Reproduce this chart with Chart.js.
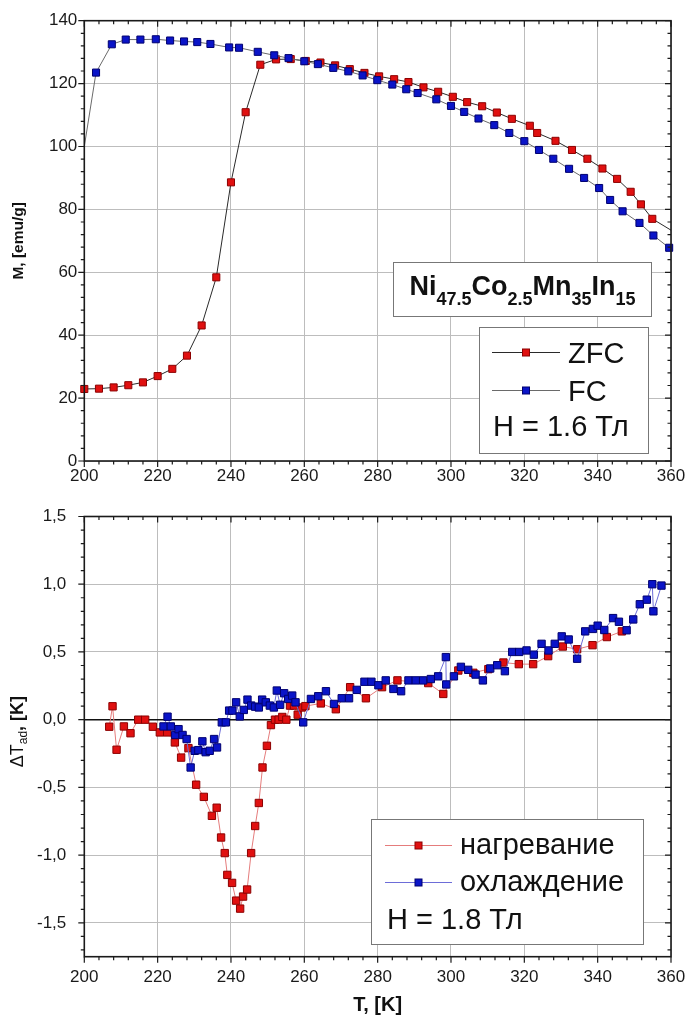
<!DOCTYPE html>
<html>
<head>
<meta charset="utf-8">
<title>Ni47.5Co2.5Mn35In15: M(T), ΔTad(T)</title>
<script src="https://cdn.jsdelivr.net/npm/chart.js@4.4.1/dist/chart.umd.min.js"></script>
<style>
  html, body { margin: 0; padding: 0; background: #fff; }
  canvas { position: absolute; left: 0; }
  #top { top: 0; }
  #bottom { top: 495px; }
</style>
</head>
<body>
<canvas id="top" width="688" height="495"></canvas>
<canvas id="bottom" width="688" height="526"></canvas>
<script>
// ---- top panel: magnetisation, H = 1.6 T ----
const zfcT = [200, 204, 208, 212, 216, 220, 224, 228, 232, 236, 240, 244, 248, 252.3, 256.3, 260.4, 264.4, 268.4, 272.4, 276.4, 280.4, 284.5, 288.4, 292.5, 296.5, 300.5, 304.4, 308.5, 312.5, 316.6, 321.5, 323.5, 328.5, 333, 337.2, 341.3, 345.3, 349, 351.8, 354.9, 360];
const zfcM = [22.9, 23.0, 23.4, 24.1, 25.0, 27.0, 29.3, 33.5, 43.1, 58.4, 88.6, 110.9, 126.0, 127.7, 127.8, 127.2, 126.7, 125.8, 124.6, 123.4, 122.3, 121.4, 120.5, 118.8, 117.4, 115.8, 114.1, 112.8, 110.8, 108.8, 106.6, 104.3, 101.8, 98.9, 96.1, 93.0, 89.7, 85.6, 81.6, 77.0, 73.4];
const fcT = [200, 203.2, 207.5, 211.3, 215.3, 219.5, 223.4, 227.2, 230.8, 234.4, 239.5, 242.2, 247.3, 251.8, 255.7, 260, 263.7, 267.9, 272, 275.9, 279.9, 284, 287.8, 290.9, 296, 300, 303.6, 307.5, 311.8, 315.9, 320, 324, 327.9, 332.2, 336.3, 340.4, 343.4, 346.8, 351.4, 355.2, 359.5];
const fcM = [100, 123.5, 132.5, 134.0, 134.0, 134.1, 133.7, 133.4, 133.2, 132.6, 131.5, 131.4, 130.1, 129.0, 128.1, 127.1, 126.2, 125.0, 123.9, 122.6, 121.1, 119.7, 118.2, 117.0, 115.0, 112.9, 111.0, 108.9, 106.8, 104.3, 101.7, 98.9, 96.1, 92.9, 90.0, 86.8, 83.0, 79.4, 75.7, 71.7, 67.8];

// ---- bottom panel: adiabatic temperature change, H = 1.8 T ----
const heatT = [206.8, 207.7, 208.8, 210.8, 212.6, 214.7, 216.6, 218.7, 220.6, 222.6, 224.7, 226.4, 228.4, 230.5, 232.6, 234.8, 236.1, 237.3, 238.3, 239.0, 240.3, 241.4, 242.5, 243.3, 244.4, 245.5, 246.6, 247.6, 248.6, 249.8, 250.9, 252.0, 253.0, 254.0, 255.1, 256.1, 257.2, 258.2, 259.3, 260.3, 264.5, 268.6, 272.5, 276.8, 281.2, 285.4, 293.8, 297.9, 302.0, 306.1, 310.2, 314.3, 318.5, 322.4, 326.5, 330.5, 334.4, 338.6, 342.5, 346.6];
const heatDT = [-0.052, 0.099, -0.222, -0.05, -0.10, 0, 0, -0.052, -0.094, -0.094, -0.168, -0.28, -0.21, -0.48, -0.57, -0.71, -0.65, -0.87, -0.985, -1.146, -1.205, -1.336, -1.395, -1.306, -1.254, -0.985, -0.785, -0.615, -0.353, -0.193, -0.04, 0, 0, 0.02, 0, 0.104, 0.104, 0.037, 0.09, 0.1, 0.12, 0.077, 0.24, 0.158, 0.24, 0.29, 0.27, 0.19, 0.363, 0.346, 0.373, 0.422, 0.41, 0.41, 0.469, 0.54, 0.52, 0.55, 0.61, 0.652];
const coolT = [221.6, 222.7, 223.6, 224.8, 225.7, 226.8, 227.9, 229.0, 230.1, 231.1, 232.2, 233.1, 234.2, 235.4, 236.2, 237.5, 238.6, 239.5, 240.4, 241.4, 242.4, 243.5, 244.5, 245.5, 246.6, 247.6, 248.5, 249.5, 250.6, 251.7, 252.5, 253.4, 254.5, 255.6, 256.7, 257.6, 259.7, 261.8, 263.8, 265.9, 268.1, 270.2, 272.2, 274.3, 276.4, 278.3, 280.2, 282.2, 284.3, 286.4, 288.4, 290.4, 292.4, 294.5, 296.5, 298.6, 298.7, 300.8, 302.7, 304.7, 306.7, 308.7, 310.7, 312.6, 314.7, 316.7, 318.6, 320.6, 322.6, 324.7, 326.6, 328.3, 330.2, 332.1, 334.4, 336.6, 338.7, 340.0, 341.8, 344.2, 345.8, 347.9, 349.7, 351.5, 353.4, 354.9, 355.2, 357.4];
const coolDT = [-0.05, 0.022, -0.05, -0.113, -0.07, -0.113, -0.143, -0.353, -0.23, -0.225, -0.16, -0.24, -0.23, -0.143, -0.205, -0.02, -0.02, 0.067, 0.067, 0.128, 0.024, 0.072, 0.148, 0.104, 0.096, 0.09, 0.148, 0.128, 0.104, 0.09, 0.215, 0.11, 0.195, 0.153, 0.178, 0.128, -0.02, 0.153, 0.173, 0.21, 0.116, 0.158, 0.158, 0.22, 0.28, 0.28, 0.254, 0.29, 0.227, 0.21, 0.29, 0.29, 0.29, 0.30, 0.32, 0.462, 0.26, 0.32, 0.39, 0.368, 0.333, 0.29, 0.378, 0.402, 0.358, 0.50, 0.50, 0.511, 0.48, 0.56, 0.511, 0.56, 0.615, 0.592, 0.45, 0.652, 0.67, 0.694, 0.662, 0.75, 0.723, 0.66, 0.74, 0.852, 0.886, 1.0, 0.8, 0.99];

// ---- ticks ----
const tTicks = [200, 220, 240, 260, 280, 300, 320, 340, 360];
const tLabels = ['200', '220', '240', '260', '280', '300', '320', '340', '360'];
const mTicks = [0, 20, 40, 60, 80, 100, 120, 140];
const mLabels = ['0', '20', '40', '60', '80', '100', '120', '140'];
const dtTicks = [-1.5, -1, -0.5, 0, 0.5, 1, 1.5];
const dtLabels = ['-1,5', '-1,0', '-0,5', '0,0', '0,5', '1,0', '1,5'];

const FONT = "'Liberation Sans', Arial, sans-serif";
Chart.defaults.font.family = FONT;
Chart.defaults.color = '#1a1a1a';

const RED = '#e01010', RED_EDGE = '#8c0000';
const BLUE = '#0a14c8', BLUE_EDGE = '#000070';

const pts = (xs, ys) => xs.map((x, i) => ({ x: x, y: ys[i] }));

// frame with minor ticks: out on bottom/left, in on top/right
const framePlugin = {
  id: 'frame',
  afterDatasetsDraw(chart, args, o) {
    const { ctx, chartArea: a, scales: { x, y } } = chart;
    const isMajor = (v, step) => Math.abs(v / step - Math.round(v / step)) < 1e-6;
    ctx.save();
    ctx.strokeStyle = '#1a1a1a';
    ctx.lineWidth = 1.2;
    ctx.beginPath();
    for (let v = Math.ceil(x.min / o.xMinor - 1e-6) * o.xMinor; v <= x.max + 1e-6; v += o.xMinor) {
      const p = x.getPixelForValue(v);
      const len = isMajor(v, o.xMajor) ? 6 : 3.5;
      ctx.moveTo(p, a.bottom); ctx.lineTo(p, a.bottom + len);
      ctx.moveTo(p, a.top); ctx.lineTo(p, a.top + len);
    }
    for (let v = Math.ceil(y.min / o.yMinor - 1e-6) * o.yMinor; v <= y.max + 1e-6; v += o.yMinor) {
      const p = y.getPixelForValue(v);
      const len = isMajor(v, o.yMajor) ? 6 : 3.5;
      ctx.moveTo(a.left, p); ctx.lineTo(a.left - len, p);
      ctx.moveTo(a.right, p); ctx.lineTo(a.right - len, p);
    }
    ctx.stroke();
    ctx.lineWidth = 1.6;
    ctx.strokeRect(a.left, a.top, a.right - a.left, a.bottom - a.top);
    ctx.restore();
  }
};

function noteBox(ctx, x, y, w, h) {
  ctx.fillStyle = '#fff';
  ctx.fillRect(x, y, w, h);
  ctx.strokeStyle = '#777';
  ctx.lineWidth = 1;
  ctx.strokeRect(x, y, w, h);
}

function legendRow(ctx, ds, x0, x1, y, textX, baseY, text, size) {
  ctx.strokeStyle = ds.borderColor;
  ctx.lineWidth = 1;
  ctx.beginPath(); ctx.moveTo(x0, y); ctx.lineTo(x1, y); ctx.stroke();
  const mx = (x0 + x1) / 2, s = 3.5;
  ctx.fillStyle = ds.pointBackgroundColor;
  ctx.fillRect(mx - s, y - s, 2 * s, 2 * s);
  ctx.strokeStyle = ds.pointBorderColor;
  ctx.strokeRect(mx - s, y - s, 2 * s, 2 * s);
  ctx.fillStyle = '#111';
  ctx.font = size + 'px ' + FONT;
  ctx.textBaseline = 'alphabetic';
  ctx.fillText(text, textX, baseY);
}

const topNotes = {
  id: 'topNotes',
  afterDraw(chart) {
    const ctx = chart.ctx;
    ctx.save();
    noteBox(ctx, 393.5, 262.5, 258, 54);
    const parts = [['Ni', 0], ['47.5', 1], ['Co', 0], ['2.5', 1], ['Mn', 0], ['35', 1], ['In', 0], ['15', 1]];
    const fonts = ['bold 27px ' + FONT, 'bold 18px ' + FONT];
    let w = 0;
    parts.forEach(p => { ctx.font = fonts[p[1]]; p.push(ctx.measureText(p[0]).width); w += p[2]; });
    let xx = 522.5 - w / 2;
    ctx.fillStyle = '#111';
    ctx.textBaseline = 'alphabetic';
    parts.forEach(p => { ctx.font = fonts[p[1]]; ctx.fillText(p[0], xx, p[1] ? 305 : 295); xx += p[2]; });

    noteBox(ctx, 479.5, 327.5, 169, 126);
    const ds = chart.data.datasets;
    legendRow(ctx, ds[0], 492, 560, 352.5, 568, 362.5, 'ZFC', 29);
    legendRow(ctx, ds[1], 492, 560, 390.5, 568, 400.5, 'FC', 29);
    ctx.font = '29px ' + FONT;
    ctx.fillText('H = 1.6 Тл', 493, 436);
    ctx.restore();
  }
};

const bottomNotes = {
  id: 'bottomNotes',
  afterDraw(chart) {
    const ctx = chart.ctx;
    ctx.save();
    noteBox(ctx, 371.5, 324.5, 272, 125);
    const ds = chart.data.datasets;
    legendRow(ctx, ds[0], 385, 452, 350.5, 460, 358.5, 'нагревание', 29);
    legendRow(ctx, ds[1], 385, 452, 387.5, 460, 396, 'охлаждение', 29);
    ctx.font = '29px ' + FONT;
    ctx.fillText('H = 1.8 Тл', 387, 433.5);

    // y title with subscript: ΔT_ad, [K]
    const a = chart.chartArea;
    const parts = [
      ['Δ', '18px ' + FONT, 0],
      ['T', '18px ' + FONT, 0],
      ['ad', '12px ' + FONT, 5],
      [', [K]', 'bold 18px ' + FONT, 0]
    ];
    ctx.translate(18.5, (a.top + a.bottom) / 2 - 5);
    ctx.rotate(-Math.PI / 2);
    let w = 0;
    parts.forEach(p => { ctx.font = p[1]; p.push(ctx.measureText(p[0]).width); w += p[3]; });
    let xx = -w / 2;
    ctx.fillStyle = '#111';
    ctx.textBaseline = 'middle';
    parts.forEach(p => { ctx.font = p[1]; ctx.fillText(p[0], xx, p[2]); xx += p[3]; });
    ctx.restore();
  }
};

const gridColor = '#bdbdbd';

// fixed axis boxes so both plot areas line up with the picture
const fitX = h => s => { s.height = h; s.paddingLeft = 0; s.paddingRight = 0; };
const fitY = s => { s.width = 84.3; s.paddingTop = 0; s.paddingBottom = 0; };

new Chart(document.getElementById('top'), {
  type: 'line',
  data: {
    datasets: [{
      label: 'ZFC',
      data: pts(zfcT, zfcM),
      borderColor: '#2a2a2a',
      borderWidth: 1,
      pointStyle: 'rect',
      pointRadius: c => (c.dataIndex === zfcT.length - 1 ? 0 : 5),
      pointBackgroundColor: RED,
      pointBorderColor: RED_EDGE,
      pointBorderWidth: 1,
      clip: false,
      order: 2
    }, {
      label: 'FC',
      data: pts(fcT, fcM),
      borderColor: '#6a6a6a',
      borderWidth: 1,
      pointStyle: 'rect',
      pointRadius: c => (c.dataIndex === 0 ? 0 : 5),
      pointBackgroundColor: BLUE,
      pointBorderColor: BLUE_EDGE,
      pointBorderWidth: 1,
      clip: false,
      order: 1
    }]
  },
  options: {
    responsive: false,
    animation: false,
    events: [],
    layout: { padding: { top: 20.7, right: 17, left: 0, bottom: 0 } },
    plugins: {
      legend: { display: false },
      tooltip: { enabled: false },
      frame: { xMinor: 4, xMajor: 20, yMinor: 4, yMajor: 20 }
    },
    scales: {
      x: {
        type: 'linear', min: 200, max: 360,
        afterBuildTicks: s => { s.ticks = tTicks.map(v => ({ value: v })); },
        afterFit: fitX(34),
        ticks: { font: { size: 17 }, padding: 5.5, maxRotation: 0, autoSkip: false,
                 callback: (v, i) => tLabels[i] },
        grid: { color: gridColor, lineWidth: 1, drawTicks: false },
        border: { display: false }
      },
      y: {
        type: 'linear', min: 0, max: 140,
        afterBuildTicks: s => { s.ticks = mTicks.map(v => ({ value: v })); },
        afterFit: fitY,
        ticks: { font: { size: 17 }, padding: 7, autoSkip: false,
                 callback: (v, i) => mLabels[i] },
        grid: { color: gridColor, lineWidth: 1, drawTicks: false },
        border: { display: false },
        title: { display: true, text: 'M, [emu/g]', font: { size: 15.5, weight: 'bold' },
                 padding: { top: 9.5, bottom: 0 }, color: '#111' }
      }
    }
  },
  plugins: [framePlugin, topNotes]
});

new Chart(document.getElementById('bottom'), {
  type: 'line',
  data: {
    datasets: [{
      label: 'нагревание',
      data: pts(heatT, heatDT),
      borderColor: '#e57c7c',
      borderWidth: 1,
      pointStyle: 'rect',
      pointRadius: 5.2,
      pointBackgroundColor: RED,
      pointBorderColor: RED_EDGE,
      pointBorderWidth: 1,
      clip: false,
      order: 2
    }, {
      label: 'охлаждение',
      data: pts(coolT, coolDT),
      borderColor: '#6d6dd8',
      borderWidth: 1,
      pointStyle: 'rect',
      pointRadius: 5.2,
      pointBackgroundColor: BLUE,
      pointBorderColor: BLUE_EDGE,
      pointBorderWidth: 1,
      clip: false,
      order: 1
    }]
  },
  options: {
    responsive: false,
    animation: false,
    events: [],
    layout: { padding: { top: 21.5, right: 17, left: 0, bottom: 0 } },
    plugins: {
      legend: { display: false },
      tooltip: { enabled: false },
      frame: { xMinor: 4, xMajor: 20, yMinor: 0.1, yMajor: 0.5 }
    },
    scales: {
      x: {
        type: 'linear', min: 200, max: 360,
        afterBuildTicks: s => { s.ticks = tTicks.map(v => ({ value: v })); },
        afterFit: fitX(64.3),
        ticks: { font: { size: 17 }, padding: 10.5, maxRotation: 0, autoSkip: false,
                 callback: (v, i) => tLabels[i] },
        grid: { color: gridColor, lineWidth: 1, drawTicks: false },
        border: { display: false },
        title: { display: true, text: 'T, [K]', font: { size: 20, weight: 'bold' },
                 padding: { top: 0, bottom: 4 }, color: '#111' }
      },
      y: {
        type: 'linear', min: -1.75, max: 1.5,
        afterBuildTicks: s => { s.ticks = dtTicks.map(v => ({ value: v })); },
        afterFit: fitY,
        ticks: { font: { size: 17 }, padding: 18, autoSkip: false,
                 callback: (v, i) => dtLabels[i] },
        grid: {
          color: c => (c.tick && c.tick.value === 0 ? '#111' : gridColor),
          lineWidth: c => (c.tick && c.tick.value === 0 ? 1.5 : 1),
          drawTicks: false
        },
        border: { display: false }
      }
    }
  },
  plugins: [framePlugin, bottomNotes]
});
</script>
</body>
</html>
